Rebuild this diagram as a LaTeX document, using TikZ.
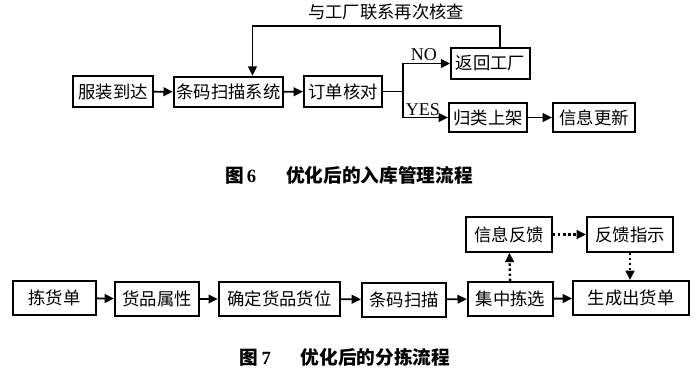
\documentclass[tikz,border=0pt]{standalone}
\usepackage{fontspec}
\setmainfont{Liberation Serif}
\newfontfamily\cjk{Noto Sans CJK SC}
\usetikzlibrary{arrows.meta,positioning,calc}

\tikzset{
  box/.style={draw, line width=1.5pt, inner sep=1pt, minimum height=23pt,
    font=\cjk\fontsize{13}{13}\selectfont},
  arr/.style={line width=1.4pt, -{Triangle[length=7pt,width=6.5pt]}},
  dotarr/.style={line width=1.8pt, dotted, -{Triangle[length=7pt,width=6.5pt]}},
  figcap/.style={font=\cjk\bfseries\fontsize{14}{14}\selectfont}
}

\begin{document}
\begin{tikzpicture}[x=0.75pt, y=-0.75pt]
  \useasboundingbox (0,0) rectangle (700,374);

  %% Fig. 6: inbound process
  \node[box, minimum width=60pt]   (arrive) at (113,91.5)  {服装到达};
  \node[box, minimum width=82pt]   (scan)   at (228.5,92)  {条码扫描系统};
  \node[box, minimum width=58.5pt] (check)  at (343,91.5)  {订单核对};
  \node[box, minimum width=59pt]   (back)   at (490.5,63.5) {返回工厂};
  \node[box, minimum width=58.5pt, minimum height=22pt] (shelf)  at (488,117.5) {归类上架};
  \node[box, minimum width=61.5pt, minimum height=22pt] (update) at (594,117.5) {信息更新};

  \draw[arr] (arrive) -- (scan);
  \draw[arr] (scan) -- (check);
  \draw[line width=1.4pt] (check.east) -- (403,91.5) coordinate (split);
  \draw[arr] (split) |- node[pos=0.72, above=-2pt, font=\fontsize{13.5}{13.5}\selectfont] {NO} (back.west);
  \draw[arr] (split) |- node[pos=0.72, above=-3pt, font=\fontsize{13.5}{13.5}\selectfont] {YES} (shelf.west);
  \draw[arr] (shelf) -- (update);

  %% feedback loop back to scanning
  \coordinate (corner) at (252.5,26);
  \draw[arr] ([xshift=7]back.north) |- (corner) -- ([xshift=18]scan.north);
  \node[font=\cjk\fontsize{13}{13}\selectfont] (recheck) at (386,12) {与工厂联系再次核查};

  \node[figcap] (cap6) at (349,175) {图\,{\rmfamily 6}\hspace{1.6em}优化后的入库管理流程};

  %% Fig. 7: sorting process
  \node[box, minimum width=62pt, minimum height=25.5pt] (list)   at (54.5,298)  {拣货单};
  \node[box, minimum width=63pt, minimum height=25.5pt] (attr)   at (157,299)   {货品属性};
  \node[box, minimum width=91pt, minimum height=25.5pt] (loc)    at (279.5,299) {确定货品货位};
  \node[box, minimum width=63pt, minimum height=25.5pt] (code)   at (404,299.5) {条码扫描};
  \node[box, minimum width=64pt, minimum height=25.5pt] (gather) at (510.5,299) {集中拣选};
  \node[box, minimum width=87pt, minimum height=25.5pt] (output) at (631,298)   {生成出货单};
  \node[box, minimum width=64.5pt, minimum height=26pt] (feed)   at (509,234.5) {信息反馈};
  \node[box, minimum width=64.5pt, minimum height=26pt] (instr)  at (630,234.5) {反馈指示};

  \foreach \a/\b in {list/attr, attr/loc, loc/code, code/gather, gather/output}
    \draw[arr] (\a) -- (\b);

  \draw[dotarr] (gather) -- (feed);
  \draw[dotarr] (feed) -- (instr);
  \draw[dotarr] (instr) -- (output.north -| instr);

  \node[figcap] (cap7) at (345,357) {图\,{\rmfamily 7}\hspace{1.6em}优化后的分拣流程};
\end{tikzpicture}
\end{document}
